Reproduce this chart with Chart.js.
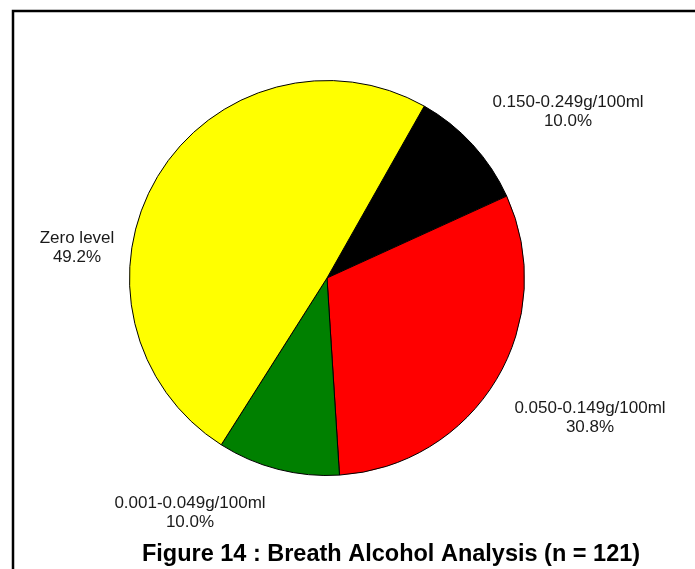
<!DOCTYPE html>
<html lang="en">
<head>
    <meta charset="UTF-8">
    <title>Breath Alcohol Analysis</title>
    <script src="https://cdn.jsdelivr.net/npm/chart.js"></script>
    <style>
        html, body { margin: 0; padding: 0; background: #fff; }
        canvas { display: block; }
    </style>
</head>
<body>
    <canvas id="pieChart" width="695" height="569"></canvas>

    <script>
        // Breath alcohol groups, clockwise from the black slice
        const categories = ['0.150-0.249g/100ml', '0.050-0.149g/100ml', '0.001-0.049g/100ml', 'Zero level'];
        const percents = [10.0, 30.8, 10.0, 49.2];
        const sliceColors = ['#000000', '#ff0000', '#008000', '#ffff00'];

        // where each label block is centred (first line)
        const labelPos = [[568, 102], [590, 408], [190, 503], [77, 238]];

        const TITLE = 'Figure 14 : Breath Alcohol Analysis (n = 121)';

        // frame, slice labels and caption
        const decorations = {
            id: 'decorations',
            afterDraw(chart) {
                const c = chart.ctx;
                c.save();
                c.strokeStyle = '#000';
                c.lineWidth = 2.5;
                c.beginPath();
                c.moveTo(13, 569);
                c.lineTo(13, 11);
                c.lineTo(695, 11);
                c.stroke();

                c.fillStyle = '#1a1a1a';
                c.textAlign = 'center';
                c.textBaseline = 'middle';
                c.font = '17px "Liberation Sans", Arial, sans-serif';
                categories.forEach((name, i) => {
                    const [x, y] = labelPos[i];
                    c.fillText(name, x, y);
                    c.fillText(percents[i].toFixed(1) + '%', x, y + 19);
                });

                c.fillStyle = '#000';
                c.font = 'bold 23.5px "Liberation Sans", Arial, sans-serif';
                c.fillText(TITLE, 391, 555);
                c.restore();
            }
        };

        new Chart(document.getElementById('pieChart'), {
            type: 'pie',
            data: {
                labels: categories,
                datasets: [{
                    data: percents,
                    backgroundColor: sliceColors,
                    borderColor: '#000',
                    borderWidth: 1
                }]
            },
            options: {
                responsive: false,
                animation: false,
                rotation: 29.5,
                layout: { padding: { left: 128, right: 169, top: 80, bottom: 93 } },
                plugins: {
                    legend: { display: false },
                    tooltip: { enabled: false }
                }
            },
            plugins: [decorations]
        });
    </script>
</body>
</html>
